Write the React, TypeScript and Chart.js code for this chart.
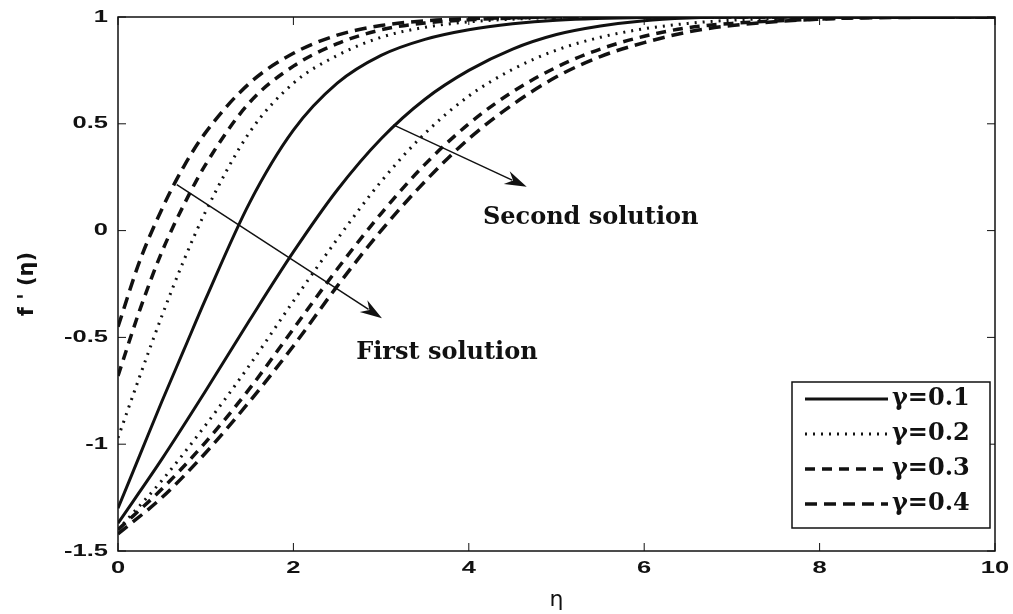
import React, { useEffect, useRef } from "react";
import { Chart, registerables } from "chart.js";

Chart.register(...registerables);

// ---- data ----
const etaFirst = [0, 0.25, 0.5, 0.75, 1, 1.5, 2, 2.5, 3, 3.5, 4, 4.5, 5, 6, 7, 8, 9, 10];
const firstG1 = [-1.3, -1.05, -0.8, -0.56, -0.32, 0.13, 0.47, 0.69, 0.82, 0.895, 0.94, 0.968, 0.985, 0.998, 1, 1, 1, 1];
const firstG2 = [-0.97, -0.68, -0.4, -0.14, 0.09, 0.46, 0.69, 0.82, 0.905, 0.952, 0.977, 0.99, 0.997, 1, 1, 1, 1, 1];
const firstG3 = [-0.68, -0.37, -0.1, 0.12, 0.31, 0.6, 0.77, 0.875, 0.94, 0.972, 0.987, 0.995, 1, 1, 1, 1, 1, 1];
const firstG4 = [-0.45, -0.14, 0.1, 0.3, 0.46, 0.69, 0.83, 0.915, 0.96, 0.982, 0.992, 0.997, 1, 1, 1, 1, 1, 1];

const etaSecond = [0, 0.5, 1, 1.5, 2, 2.5, 3, 3.5, 4, 4.5, 5, 5.5, 6, 6.5, 7, 8, 9, 10];
const secondG1 = [-1.37, -1.07, -0.75, -0.42, -0.1, 0.19, 0.43, 0.615, 0.75, 0.85, 0.918, 0.958, 0.983, 0.995, 1, 1, 1, 1];
const secondG2 = [-1.4, -1.17, -0.91, -0.63, -0.33, -0.04, 0.23, 0.455, 0.63, 0.755, 0.845, 0.905, 0.945, 0.97, 0.985, 0.998, 1, 1];
const secondG3 = [-1.4, -1.21, -0.99, -0.74, -0.46, -0.18, 0.08, 0.31, 0.5, 0.65, 0.765, 0.85, 0.91, 0.95, 0.97, 0.99, 1, 1];
const secondG4 = [-1.42, -1.25, -1.04, -0.8, -0.54, -0.26, 0.0, 0.23, 0.43, 0.59, 0.72, 0.815, 0.88, 0.93, 0.96, 0.99, 0.998, 1];

const gammaLabels = ["γ=0.1", "γ=0.2", "γ=0.3", "γ=0.4"];
const xTickValues = [0, 2, 4, 6, 8, 10];
const yTickValues = [-1.5, -1, -0.5, 0, 0.5, 1];

const xTitle = "η";
const yTitle = "f ' (η)";

// annotations (data units)
const annotTexts = ["First solution", "Second solution"];
const annotTextPos = [
  [3.75, -0.57],
  [5.39, 0.06],
];
const arrowFrom = [
  [0.67, 0.215],
  [3.14, 0.495],
];
const arrowTo = [
  [3.01, -0.41],
  [4.66, 0.205],
];

// ---- styles ----
const INK = "#111111";
const styles = [
  { dash: [] as number[], width: 3 },
  { dash: [2, 6], width: 3 },
  { dash: [10, 7], width: 3.5 },
  { dash: [12, 7], width: 3.5 },
];
const TICK_FONT = "bold 17px 'Liberation Sans'";
const TICK_STRETCH = 1.5;

const toPts = (xs: number[], ys: number[]) => xs.map((x, i) => ({ x, y: ys[i] }));

const firstSets = [firstG1, firstG2, firstG3, firstG4];
const secondSets = [secondG1, secondG2, secondG3, secondG4];

const overlayPlugin = {
  id: "overlay",
  afterDatasetsDraw(chart: any) {
    const { ctx, chartArea: ca, scales } = chart;
    const xs = scales.x;
    const ys = scales.y;
    ctx.save();
    // frame
    ctx.strokeStyle = INK;
    ctx.lineWidth = 1.5;
    ctx.setLineDash([]);
    ctx.strokeRect(ca.left, ca.top, ca.right - ca.left, ca.bottom - ca.top);
    // inner ticks
    ctx.lineWidth = 1;
    const tl = 8;
    xTickValues.forEach((v) => {
      const px = xs.getPixelForValue(v);
      ctx.beginPath();
      ctx.moveTo(px, ca.bottom);
      ctx.lineTo(px, ca.bottom - tl);
      ctx.moveTo(px, ca.top);
      ctx.lineTo(px, ca.top + tl);
      ctx.stroke();
    });
    yTickValues.forEach((v) => {
      const py = ys.getPixelForValue(v);
      ctx.beginPath();
      ctx.moveTo(ca.left, py);
      ctx.lineTo(ca.left + tl, py);
      ctx.moveTo(ca.right, py);
      ctx.lineTo(ca.right - tl, py);
      ctx.stroke();
    });
    // tick labels (horizontally stretched like the reference)
    ctx.fillStyle = INK;
    ctx.font = TICK_FONT;
    xTickValues.forEach((v) => {
      const px = xs.getPixelForValue(v);
      ctx.save();
      ctx.translate(px, ca.bottom + 17);
      ctx.scale(TICK_STRETCH, 1);
      ctx.textAlign = "center";
      ctx.textBaseline = "middle";
      ctx.fillText(String(v), 0, 0);
      ctx.restore();
    });
    yTickValues.forEach((v) => {
      const py = ys.getPixelForValue(v);
      ctx.save();
      ctx.translate(ca.left - 10, py);
      ctx.scale(TICK_STRETCH, 1);
      ctx.textAlign = "right";
      ctx.textBaseline = "middle";
      ctx.fillText(String(v), 0, 0);
      ctx.restore();
    });
    // arrows
    ctx.strokeStyle = INK;
    ctx.fillStyle = INK;
    ctx.lineWidth = 1.5;
    arrowFrom.forEach((f, i) => {
      const t = arrowTo[i];
      const x1 = xs.getPixelForValue(f[0]);
      const y1 = ys.getPixelForValue(f[1]);
      const x2 = xs.getPixelForValue(t[0]);
      const y2 = ys.getPixelForValue(t[1]);
      const ang = Math.atan2(y2 - y1, x2 - x1);
      const hl = 22;
      const hw = 7;
      const bx = x2 - hl * Math.cos(ang);
      const by = y2 - hl * Math.sin(ang);
      ctx.beginPath();
      ctx.moveTo(x1, y1);
      ctx.lineTo(bx + 6 * Math.cos(ang), by + 6 * Math.sin(ang));
      ctx.stroke();
      ctx.beginPath();
      ctx.moveTo(x2, y2);
      ctx.lineTo(bx - hw * Math.sin(ang), by + hw * Math.cos(ang));
      ctx.lineTo(bx + 7 * Math.cos(ang), by + 7 * Math.sin(ang));
      ctx.lineTo(bx + hw * Math.sin(ang), by - hw * Math.cos(ang));
      ctx.closePath();
      ctx.fill();
    });
    // annotation texts
    ctx.font = "bold 24px 'DejaVu Serif'";
    ctx.textAlign = "center";
    ctx.textBaseline = "middle";
    annotTexts.forEach((txt, i) => {
      const p = annotTextPos[i];
      ctx.fillText(txt, xs.getPixelForValue(p[0]), ys.getPixelForValue(p[1]));
    });

    // legend
    const bw = 198;
    const bh = 146;
    const bx = ca.right - 5 - bw;
    const by = ca.bottom - 23 - bh;
    ctx.fillStyle = "#ffffff";
    ctx.fillRect(bx, by, bw, bh);
    ctx.strokeStyle = INK;
    ctx.lineWidth = 1.5;
    ctx.setLineDash([]);
    ctx.strokeRect(bx, by, bw, bh);
    gammaLabels.forEach((lab, i) => {
      const ry = by + 17 + i * 35;
      const st = styles[i];
      ctx.beginPath();
      ctx.setLineDash(st.dash);
      ctx.lineWidth = st.width;
      ctx.strokeStyle = INK;
      ctx.moveTo(bx + 13, ry);
      ctx.lineTo(bx + 96, ry);
      ctx.stroke();
      ctx.setLineDash([]);
      ctx.fillStyle = INK;
      ctx.font = "bold 24px 'DejaVu Serif'";
      ctx.textAlign = "left";
      ctx.textBaseline = "middle";
      ctx.fillText(lab, bx + 100, ry);
    });
    ctx.restore();
  },
};

export default function App() {
  const ref = useRef<HTMLCanvasElement | null>(null);
  useEffect(() => {
    if (!ref.current) return;
    const datasets: any[] = [];
    firstSets.forEach((ys, i) => {
      datasets.push({
        label: gammaLabels[i] + " first",
        data: toPts(etaFirst, ys),
        borderColor: INK,
        borderWidth: styles[i].width,
        borderDash: styles[i].dash,
        pointRadius: 0,
        cubicInterpolationMode: "monotone",
        fill: false,
      });
    });
    secondSets.forEach((ys, i) => {
      datasets.push({
        label: gammaLabels[i] + " second",
        data: toPts(etaSecond, ys),
        borderColor: INK,
        borderWidth: styles[i].width,
        borderDash: styles[i].dash,
        pointRadius: 0,
        cubicInterpolationMode: "monotone",
        fill: false,
      });
    });
    const chart = new Chart(ref.current, {
      type: "line",
      data: { datasets },
      options: {
        responsive: false,
        animation: false,
        layout: { padding: { left: 0, right: 18, top: 17, bottom: 0 } },
        plugins: { legend: { display: false }, tooltip: { enabled: false } },
        scales: {
          x: {
            type: "linear",
            min: 0,
            max: 10,
            afterBuildTicks: (s: any) => {
              s.ticks = xTickValues.map((v) => ({ value: v }));
            },
            afterFit: (s: any) => {
              s.height = 63;
            },
            ticks: { display: false },
            grid: { display: false, drawTicks: false },
            border: { display: false },
            title: {
              display: true,
              text: xTitle,
              color: INK,
              font: { family: "'DejaVu Sans'", size: 22 },
              padding: { top: 0, bottom: 1 },
            },
          },
          y: {
            type: "linear",
            min: -1.5,
            max: 1,
            afterBuildTicks: (s: any) => {
              s.ticks = yTickValues.map((v) => ({ value: v }));
            },
            afterFit: (s: any) => {
              s.width = 118;
            },
            ticks: { display: false },
            grid: { display: false, drawTicks: false },
            border: { display: false },
            title: {
              display: true,
              text: yTitle,
              color: INK,
              font: { family: "'DejaVu Sans'", size: 21, weight: "bold" },
              padding: { top: 15, bottom: 0 },
            },
          },
        },
      },
      plugins: [overlayPlugin],
    });
    return () => chart.destroy();
  }, []);
  return (
    <div style={{ position: "fixed", left: 0, top: 0, width: 1013, height: 614, background: "#fff" }}>
      <canvas ref={ref} width={1013} height={614} style={{ width: 1013, height: 614 }} />
    </div>
  );
}
